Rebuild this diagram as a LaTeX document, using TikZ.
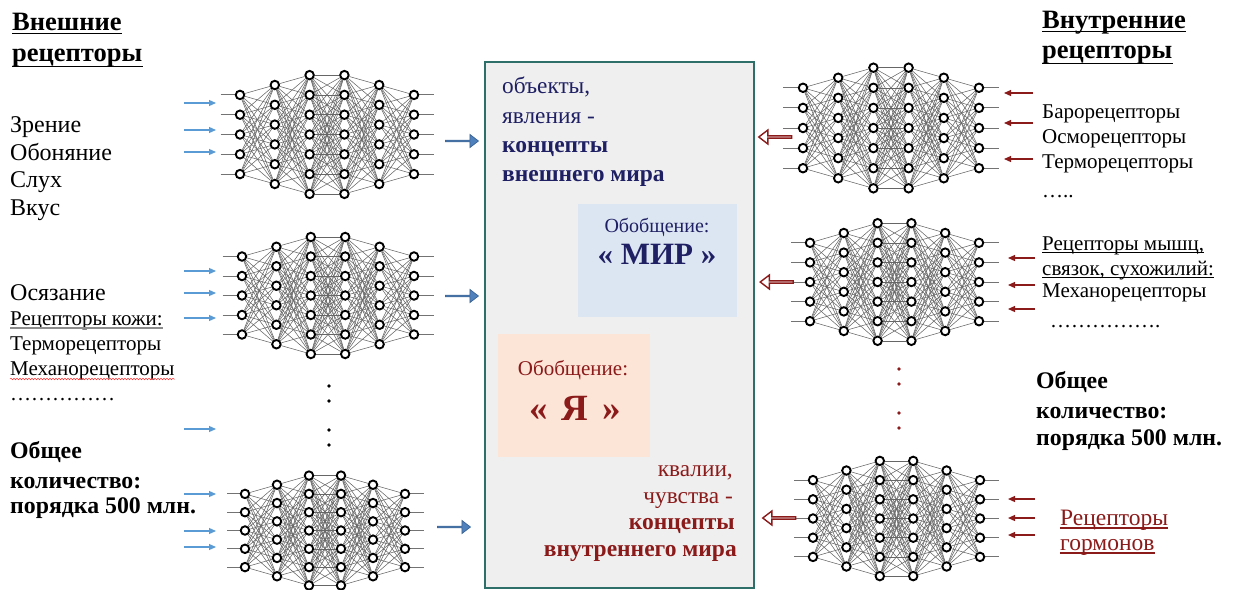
\documentclass[tikz,border=0pt]{standalone}
\usepackage{fontspec}
\setmainfont{Liberation Serif}
\usetikzlibrary{shapes.arrows,backgrounds,decorations.pathmorphing,arrows.meta}

\definecolor{navy}{HTML}{1F2063}
\definecolor{wine}{HTML}{8B1A1A}
\definecolor{frame}{HTML}{2E6F69}
\definecolor{panel}{HTML}{EFEFEF}
\definecolor{skyfill}{HTML}{DCE6F2}
\definecolor{peachfill}{HTML}{FCE4D6}
\definecolor{inblue}{HTML}{5B9BD5}
\definecolor{bigblue}{HTML}{4F81BD}

\tikzset{
  neuron/.style={circle, draw=black, line width=1.9, fill=white, minimum size=8.5, inner sep=0},
  synapse/.style={draw=black!60, line width=0.55},
  stubline/.style={draw=black!55, line width=0.9},
  dotmark/.style={circle, fill=#1, minimum size=3.6, inner sep=0},
  txt/.style={inner sep=0, anchor=base west, font=\fontsize{24}{28}\selectfont},
  smalltxt/.style={inner sep=0, anchor=base west, font=\fontsize{21}{25}\selectfont},
  boldtxt/.style={inner sep=0, anchor=base west, font=\fontsize{23.8}{28}\selectfont\bfseries},
  headtxt/.style={inner sep=0, anchor=base west, font=\fontsize{26.5}{30}\selectfont\bfseries},
  midtxt/.style={inner sep=0, font=\fontsize{23.3}{28}\selectfont},
  uline/.style={draw=#1, line width=1.3},
  inarrow/.style={draw=inblue, line width=1.2, -{Triangle[length=7,width=6]}},
  backarrow/.style={draw=wine, line width=1.2, -{Triangle[length=7,width=6]}},
  fatblue/.style={single arrow, draw=bigblue!80!black, fill=bigblue, line width=0.8,
    minimum width=13, single arrow head extend=3, single arrow tip angle=75,
    minimum height=33, inner sep=0},
  fatred/.style={single arrow, shape border rotate=180, draw=wine, fill=white, line width=1.4,
    minimum width=14, single arrow head extend=3.5, single arrow tip angle=75,
    minimum height=33, inner sep=0},
}

% a 5-6-7-7-6-5 network: name, centre x, centre y, layer step, neuron step
\newcommand\drawnet[5]{%
  \foreach \ly/\cnt in {1/5,2/6,3/7,4/7,5/6,6/5}{%
    \foreach \k in {1,...,\cnt}{%
      \node[neuron] (#1-\ly-\k) at ({#2+(\ly-3.5)*#4},{#3+(\k-(\cnt+1)/2)*#5}) {};
    }%
  }%
  \begin{scope}[on background layer]
    \foreach \ly/\cnt/\nxt in {1/5/6,2/6/7,3/7/7,4/7/6,5/6/5}{%
      \pgfmathtruncatemacro\lz{\ly+1}%
      \foreach \k in {1,...,\cnt}{%
        \foreach \m in {1,...,\nxt}{%
          \draw[synapse] (#1-\ly-\k) -- (#1-\lz-\m);
        }%
      }%
    }%
    \foreach \k in {1,...,5}{%
      \coordinate (#1-in-\k) at ([xshift={-0.56*#4}]#1-1-\k.center);
      \coordinate (#1-out-\k) at ([xshift={0.58*#4}]#1-6-\k.center);
      \draw[stubline] (#1-in-\k) -- (#1-1-\k);
      \draw[stubline] (#1-6-\k) -- (#1-out-\k);
    }%
  \end{scope}%
}
% rule a fixed distance under the baseline of a text node
\newcommand\underrule[3][black]{%
  \draw[uline=#1] ([yshift=-#3]#2.base west) -- ([yshift=-#3]#2.base east);}

\begin{document}
\begin{tikzpicture}[x=1pt,y=-1pt]
\useasboundingbox (0,0) rectangle (1238,589);

% central panel with the two generalisations
\node[draw=frame, line width=1.5, fill=panel, minimum width=269, minimum height=526,
      anchor=north west, inner sep=0] (world) at (484,61) {};
\node[fill=skyfill, minimum width=159, minimum height=113, anchor=north west, inner sep=0]
      (mirbox) at (578,204) {};
\node[fill=peachfill, minimum width=152, minimum height=123, anchor=north west, inner sep=0]
      (yabox) at (498,334) {};

\node[midtxt, anchor=base west, text=navy] (o1) at (502,93) {объекты,};
\node[midtxt, anchor=base west, text=navy] (o2) at (502,123) {явления -};
\node[midtxt, anchor=base west, text=navy, font=\fontsize{23.5}{28}\selectfont\bfseries] (o3) at (502,152) {концепты};
\node[midtxt, anchor=base west, text=navy, font=\fontsize{23.5}{28}\selectfont\bfseries] (o4) at (502,181) {внешнего мира};

\node[inner sep=0, anchor=base, text=navy, font=\fontsize{20}{24}\selectfont] (m1) at (657,232) {Обобщение:};
\node[inner sep=0, anchor=base, text=navy, font=\fontsize{31}{36}\selectfont\bfseries] (m2) at (657,264) {«~МИР~»};

\node[inner sep=0, anchor=base, text=wine, font=\fontsize{21}{24}\selectfont] (y1) at (573,375) {Обобщение:};
\node[inner sep=0, anchor=base, text=wine, font=\fontsize{37}{40}\selectfont\bfseries] (y2) at (575,420)
  {«\hspace{14pt}Я\hspace{14pt}»};

\node[midtxt, anchor=base east, text=wine] (q1) at (733,476) {квалии,};
\node[midtxt, anchor=base east, text=wine] (q2) at (733,503) {чувства -};
\node[midtxt, anchor=base east, text=wine, font=\fontsize{23.5}{28}\selectfont\bfseries] (q3) at (735,529) {концепты};
\node[midtxt, anchor=base east, text=wine, font=\fontsize{23.5}{28}\selectfont\bfseries] (q4) at (737,556) {внутреннего мира};

% external receptor networks
\drawnet{nl1}{327}{134.5}{34.8}{19.8}
\drawnet{nl2}{328}{295.5}{34.4}{19.5}
\drawnet{nl3}{325}{530.5}{32}{18.3}

% internal receptor networks
\drawnet{nr1}{891}{128}{35.2}{20.1}
\drawnet{nr2}{894.5}{282}{33.8}{19.6}
\drawnet{nr3}{896.5}{518.5}{33.4}{19.2}

% ellipsis marks between networks
\foreach \yy [count=\c] in {386,401,430,445}
  \node[dotmark=black] (ldot\c) at (329,\yy) {};
\foreach \yy [count=\c] in {369,384,413,428}
  \node[dotmark=wine] (rdot\c) at (899,\yy) {};

% signal inputs on the left
\foreach \yy [count=\c] in {103,130,152,271,293,318,429,494,531,547}{
  \coordinate (lin-a\c) at (184,\yy);
  \coordinate (lin-b\c) at (216,\yy);
  \draw[inarrow] (lin-a\c) -- (lin-b\c);
}
% signal inputs on the right
\foreach \yy/\xa/\xb [count=\c] in {93/1033/1004,123/1033/1004,159/1033/1004,
    258/1035/1008,285/1035/1008,309/1035/1008,499/1035/1008,518/1035/1008,535/1035/1008}{
  \coordinate (rin-a\c) at (\xa,\yy);
  \coordinate (rin-b\c) at (\xb,\yy);
  \draw[backarrow] (rin-a\c) -- (rin-b\c);
}

% outputs into the central panel
\node[fatblue, anchor=west] (bo1) at (445,141) {};
\node[fatblue, anchor=west] (bo2) at (445,296) {};
\node[fatblue, anchor=west] (bo3) at (437,527) {};
\node[fatred] (ro1) at (776,137) {};
\node[fatred] (ro2) at (777.5,282) {};
\node[fatred] (ro3) at (780,518) {};

% left column
\node[headtxt] (lh1) at (12,30) {Внешние};
\node[headtxt] (lh2) at (12,61) {рецепторы};
\underrule{lh1}{3.5}
\underrule{lh2}{5.5}
\node[txt] (l1) at (10,132) {Зрение};
\node[txt] (l2) at (10,160) {Обоняние};
\node[txt] (l3) at (10,187) {Слух};
\node[txt] (l4) at (10,215) {Вкус};
\node[txt] (l5) at (10,300) {Осязание};
\node[smalltxt] (l6) at (10,325) {Рецепторы кожи:};
\draw[black!45, line width=1.6] ([yshift=-3]l6.base west) -- ([yshift=-3]l6.base east);
\node[smalltxt] (l7) at (10,350) {Терморецепторы};
\node[smalltxt] (l8) at (10,375) {Механорецепторы};
\draw[red!80, line width=0.5, decorate, decoration={snake, amplitude=0.8, segment length=3}]
  ([yshift=-4]l8.base west) -- ([yshift=-4]l8.base east);
\node[smalltxt] (l9) at (10,400) {……………};
\node[boldtxt] (l10) at (10,458) {Общее};
\node[boldtxt] (l11) at (10,488) {количество:};
\node[boldtxt] (l12) at (10,513) {порядка 500 млн.};

% right column
\node[headtxt] (rh1) at (1042,28) {Внутренние};
\node[headtxt] (rh2) at (1042,58) {рецепторы};
\underrule{rh1}{3.5}
\underrule{rh2}{5.5}
\node[smalltxt] (r1) at (1042,118) {Барорецепторы};
\node[smalltxt] (r2) at (1042,143) {Осморецепторы};
\node[smalltxt] (r3) at (1042,168) {Терморецепторы};
\node[smalltxt] (r4) at (1042,197) {…..};
\node[smalltxt] (r5) at (1042,250) {Рецепторы мышц,};
\node[smalltxt] (r6) at (1042,275) {связок, сухожилий:};
\underrule{r5}{2.5}
\underrule{r6}{2.5}
\node[smalltxt] (r7) at (1042,297) {Механорецепторы};
\node[smalltxt] (r8) at (1050,327) {…………….};
\node[boldtxt] (r9) at (1036,388) {Общее};
\node[boldtxt] (r10) at (1036,418) {количество:};
\node[boldtxt] (r11) at (1036,445) {порядка 500 млн.};
\node[smalltxt, text=wine, font=\fontsize{23.5}{26}\selectfont] (r12) at (1060,525) {Рецепторы};
\node[smalltxt, text=wine, font=\fontsize{23.5}{26}\selectfont] (r13) at (1060,550) {гормонов};
\underrule[wine]{r12}{3}
\underrule[wine]{r13}{3}
\end{tikzpicture}
\end{document}
